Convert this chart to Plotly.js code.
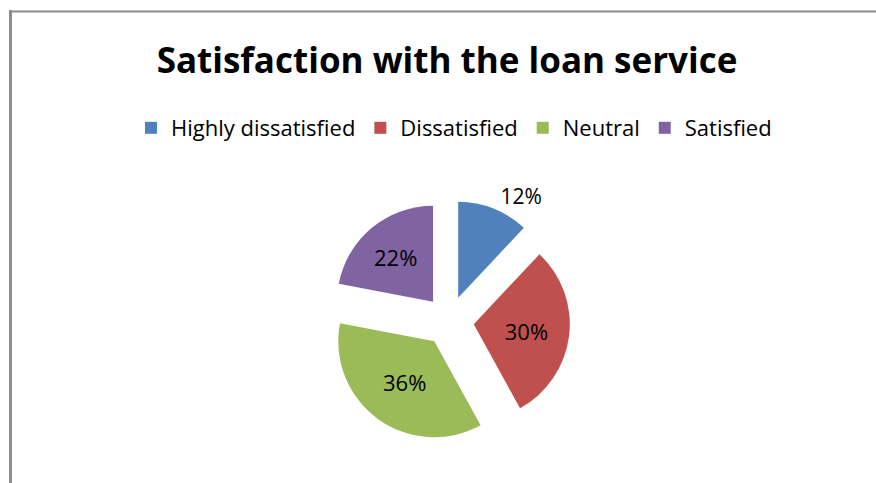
<!DOCTYPE html>
<html>
<head>
<meta charset="utf-8">
<script src="https://cdn.plot.ly/plotly-3.0.1.min.js"></script>
<style>html,body{margin:0;padding:0;background:#fff;}#chart{width:876px;height:483px;}</style>
</head>
<body>
<div id="chart"></div>
<script>
var categories = ["Highly dissatisfied", "Dissatisfied", "Neutral", "Satisfied"];
var shares = [12, 30, 36, 22];
var sliceColors = ["#4F81BD", "#C0504D", "#9BBB59", "#8064A2"];
var labelPositions = ["outside", "inside", "inside", "inside"];
var chartTitle = "Satisfaction with the loan service";

var W = 876, H = 483;
var font = "'Open Sans', sans-serif";

var trace = {
  type: "pie",
  labels: categories,
  values: shares,
  sort: false,
  direction: "clockwise",
  rotation: 0,
  pull: 0.26,
  marker: {colors: sliceColors, line: {width: 0}},
  textinfo: "percent",
  texttemplate: "%{percent:.0%}",
  textposition: labelPositions,
  insidetextorientation: "horizontal",
  insidetextfont: {family: font, size: 22, color: "#000"},
  outsidetextfont: {family: font, size: 21, color: "#000"},
  hoverinfo: "label+percent",
  domain: {x: [328 / W, 570 / W], y: [(H - 442) / H, (H - 200) / H]}
};

var layout = {
  width: W, height: H,
  margin: {l: 0, r: 0, t: 0, b: 0},
  paper_bgcolor: "#fff",
  title: {
    text: "<b>" + chartTitle + "</b>",
    font: {family: font, size: 35, color: "#000"},
    x: 447 / W, xanchor: "center",
    y: 1 - 61 / H, yanchor: "middle",
    xref: "paper", yref: "paper"
  },
  showlegend: true,
  legend: {
    orientation: "h",
    x: 454 / W, xanchor: "center",
    y: 1 - 128 / H, yanchor: "middle",
    font: {family: font, size: 22, color: "#000"},
    traceorder: "normal",
    itemwidth: 30
  },
  shapes: [
    {type: "line", xref: "paper", yref: "paper", x0: 10.5 / W, x1: 10.5 / W, y0: 0, y1: 1 - 10 / H, line: {color: "#8c8c8c", width: 3}},
    {type: "line", xref: "paper", yref: "paper", x0: 9 / W, x1: 1, y0: 1 - 11.5 / H, y1: 1 - 11.5 / H, line: {color: "#8c8c8c", width: 2}}
  ]
};

Plotly.newPlot("chart", [trace], layout, {displayModeBar: false, staticPlot: true});
</script>
</body>
</html>
